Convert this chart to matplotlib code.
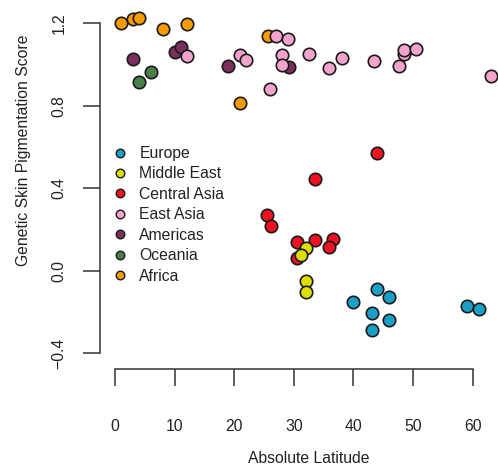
import matplotlib
matplotlib.use("Agg")
import matplotlib.pyplot as plt
from matplotlib.lines import Line2D

plt.rcParams['font.family'] = ['Liberation Sans', 'DejaVu Sans']

regions = ["Europe", "Middle East", "Central Asia", "East Asia", "Americas", "Oceania", "Africa"]
colors = {"Europe": "#1aa0c6", "Middle East": "#dede00", "Central Asia": "#ee1122",
          "East Asia": "#f5a3cc", "Americas": "#7a2f5c", "Oceania": "#4a7f4a", "Africa": "#f59a00"}

europe_lat = [40.0, 44.0, 46.0, 43.1, 46.0, 43.1, 59.0, 61.0]
europe_score = [-0.153, -0.090, -0.127, -0.203, -0.237, -0.287, -0.172, -0.184]

mideast_lat = [32.0, 31.2, 32.0, 32.0]
mideast_score = [0.112, 0.075, -0.049, -0.104]

casia_lat = [43.95, 33.5, 25.55, 26.1, 30.5, 33.5, 36.6, 35.9, 30.6]
casia_score = [0.573, 0.447, 0.269, 0.217, 0.141, 0.149, 0.153, 0.117, 0.062]

easia_lat = [12.0, 21.0, 22.0, 27.0, 29.0, 28.0, 28.0, 26.0, 32.5, 35.9, 38.1, 43.5, 47.6, 48.5, 48.5, 50.5, 63.0]
easia_score = [1.043, 1.048, 1.021, 1.138, 1.122, 1.048, 0.996, 0.881, 1.051, 0.982, 1.030, 1.017, 0.993, 1.050, 1.071, 1.074, 0.944]

americas_lat = [3.0, 10.1, 11.0, 19.0, 29.1]
americas_score = [1.027, 1.059, 1.085, 0.993, 0.990]

oceania_lat = [6.0, 4.1]
oceania_score = [0.965, 0.914]

africa_lat = [1.0, 3.0, 4.0, 8.0, 12.0, 25.6, 21.0]
africa_score = [1.203, 1.221, 1.226, 1.171, 1.197, 1.138, 0.812]

data = {
    "Europe": (europe_lat, europe_score),
    "Middle East": (mideast_lat, mideast_score),
    "Central Asia": (casia_lat, casia_score),
    "East Asia": (easia_lat, easia_score),
    "Americas": (americas_lat, americas_score),
    "Oceania": (oceania_lat, oceania_score),
    "Africa": (africa_lat, africa_score),
}
draw_order = ["Africa", "Oceania", "Americas", "East Asia", "Europe", "Central Asia", "Middle East"]

xticks = [0, 10, 20, 30, 40, 50, 60]
yticks = [-0.4, 0.0, 0.4, 0.8, 1.2]
ytick_labels = ["\u22120.4", "0.0", "0.4", "0.8", "1.2"]

W, H = 498, 475
fig = plt.figure(figsize=(W / 100, H / 100), dpi=100)
ax = fig.add_axes([100 / W, (H - 369.3) / H, (W - 100) / W, (369.3 - 7.2) / H])

for r in draw_order:
    x, y = data[r]
    ax.scatter(x, y, s=80, c=colors[r], edgecolors="#1a1a1a", linewidths=1.2,
               zorder=3, clip_on=False)

ax.set_xlim(-2.52, 64.24)
ax.set_ylim(-0.4776, 1.278)

for s in ["top", "right"]:
    ax.spines[s].set_visible(False)
for s in ["left", "bottom"]:
    ax.spines[s].set_color("#333333")
    ax.spines[s].set_linewidth(1.1)
ax.spines["bottom"].set_bounds(0, 60)
ax.spines["left"].set_bounds(-0.4, 1.2)

fs = 11.3
ax.set_xticks(xticks)
ax.set_xticklabels([str(t) for t in xticks])
ax.set_yticks(yticks)
ax.set_yticklabels(ytick_labels, rotation=90, va="center")
ax.tick_params(axis="both", length=12.5, width=1.1, color="#333333",
               labelsize=fs, labelcolor="#222222")
ax.tick_params(axis="x", pad=23)
ax.tick_params(axis="y", pad=11.5)

fig.text(308.8 / W, (H - 463) / H, "Absolute Latitude", ha="center", va="baseline",
         fontsize=fs, color="#222222")
fig.text(28 / W, (H - 150) / H, "Genetic Skin Pigmentation Score", rotation=90,
         rotation_mode="anchor", ha="center", va="baseline", fontsize=fs, color="#222222")

handles = [Line2D([0], [0], marker="o", linestyle="none", markersize=6.2,
                  markerfacecolor=colors[r], markeredgecolor="#1a1a1a", markeredgewidth=1.0)
           for r in regions]
leg = ax.legend(handles, regions, loc="upper left",
                bbox_to_anchor=(112 / W, (H - 146) / H), bbox_transform=fig.transFigure,
                frameon=False, fontsize=fs, handlelength=1.0, handletextpad=0.75,
                labelspacing=0.35, borderpad=0, borderaxespad=0)
for t in leg.get_texts():
    t.set_color("#222222")

fig.savefig("out.png", dpi=100)
